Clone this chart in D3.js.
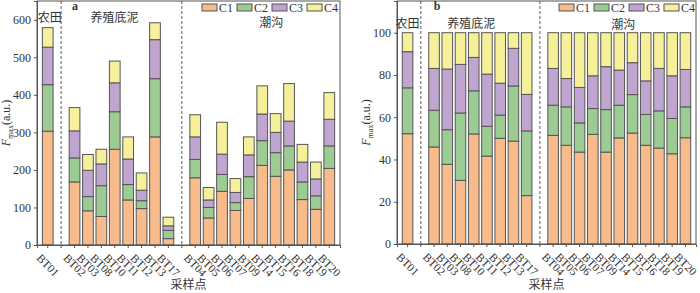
<!DOCTYPE html>
<html>
<head>
<meta charset="utf-8">
<script src="https://cdn.jsdelivr.net/npm/d3@7"></script>
<style>
  body { margin: 0; background: #fff; }
  svg text { font-family: "Liberation Serif", "Times New Roman", serif; fill: #333; }
  .cjk { font-family: "Noto Sans CJK SC", sans-serif; }
</style>
</head>
<body>
<svg id="chart" width="700" height="293"></svg>
<script>
// sampling sites, in plotting order; "|" slots hold the dashed dividers
var slots = ["BT01", "|1", "BT02", "BT03", "BT08", "BT10", "BT11", "BT12", "BT13", "BT17",
             "|2", "BT04", "BT05", "BT06", "BT07", "BT09", "BT14", "BT15", "BT16", "BT18", "BT19", "BT20"];
var sites = slots.filter(function(s) { return s[0] != "|"; });
var keys = ["C1", "C2", "C3", "C4"];

// Fmax (a.u.) per component, panel a
var fmaxC1 = [303, 168, 91, 76, 255, 120, 97, 288, 17, 179, 72, 143, 92, 124, 212, 183, 200, 121, 95, 204];
var fmaxC2 = [124, 64, 38, 82, 100, 41, 21, 155, 22, 49, 28, 45, 21, 58, 66, 63, 64, 47, 36, 60];
var fmaxC3 = [100, 72, 70, 58, 77, 68, 28, 104, 12, 60, 20, 54, 27, 58, 71, 54, 66, 53, 45, 71];
var fmaxC4 = [52, 62, 42, 39, 58, 59, 46, 45, 23, 59, 33, 85, 37, 48, 75, 50, 100, 47, 45, 71];

// relative share (%) per component, panel b
var pctC1 = [52.2, 45.9, 37.7, 30.1, 52.1, 41.6, 50.0, 48.7, 22.9, 51.4, 46.7, 43.5, 51.9, 43.5, 50.2, 52.5, 46.7, 45.4, 42.7, 50.3];
var pctC2 = [21.7, 17.4, 16.4, 31.9, 20.4, 14.1, 11.0, 26.1, 30.6, 14.3, 18.2, 13.8, 12.2, 20.1, 15.5, 18.2, 14.6, 17.6, 16.7, 14.6];
var pctC3 = [17.1, 19.8, 28.7, 23.0, 15.8, 24.7, 15.1, 17.8, 17.3, 17.4, 13.4, 16.8, 15.5, 20.3, 16.6, 15.1, 15.9, 20.1, 20.2, 17.7];
var pctC4 = [9.0, 16.9, 17.2, 15.0, 11.7, 19.6, 23.9, 7.4, 29.2, 16.9, 21.7, 25.9, 20.4, 16.1, 17.7, 14.2, 22.8, 16.9, 20.4, 17.4];

var groupNames = ["农田", "养殖底泥", "潮沟"];
var groupMembers = [["BT01"], ["BT02", "BT17"], ["BT04", "BT20"]];

var color = d3.scaleOrdinal().domain(keys).range(["#F8BC8C", "#9DCB94", "#BFA5CF", "#F7F09A"]);

function rows(c1, c2, c3, c4) {
  return sites.map(function(s, i) { return { site: s, C1: c1[i], C2: c2[i], C3: c3[i], C4: c4[i] }; });
}

var svg = d3.select("#chart");

drawPanel({
  data: rows(fmaxC1, fmaxC2, fmaxC3, fmaxC4),
  x0: 37, x1: 340, y0: 245, y1: 1,
  ymax: 650, ticks: d3.range(0, 601, 100),
  letter: "a", letterX: 75,
  groupDx: [2, -7, 9], groupY: [22, 22, 27],
  legendX: 202
});

drawPanel({
  data: rows(pctC1, pctC2, pctC3, pctC4),
  x0: 397, x1: 696, y0: 244, y1: 1,
  ymax: 115, ticks: d3.range(0, 101, 20),
  letter: "b", letterX: 437,
  groupDx: [0, -9, 4], groupY: [28, 28, 29],
  legendX: 559
});

function drawPanel(o) {
  var x = d3.scaleBand().domain(slots).range([o.x0, o.x1]).paddingInner(0.2).paddingOuter(0.4);
  var y = d3.scaleLinear().domain([0, o.ymax]).range([o.y0, o.y1]);
  var g = svg.append("g");

  // dashed dividers
  g.selectAll(".div")
    .data(slots.filter(function(s) { return s[0] == "|"; }))
    .enter().append("line")
      .attr("x1", function(d) { return x(d) + x.bandwidth() / 2; })
      .attr("x2", function(d) { return x(d) + x.bandwidth() / 2; })
      .attr("y1", o.y1).attr("y2", o.y0)
      .attr("stroke", "#777").attr("stroke-width", 1.2)
      .attr("stroke-dasharray", "3,2");

  var series = d3.stack().keys(keys)(o.data);
  g.selectAll(".layer")
    .data(series)
    .enter().append("g")
      .attr("fill", function(d) { return color(d.key); })
    .selectAll("rect")
    .data(function(d) { return d; })
    .enter().append("rect")
      .attr("x", function(d) { return x(d.data.site); })
      .attr("width", x.bandwidth())
      .attr("y", function(d) { return y(d[1]); })
      .attr("height", function(d) { return y(d[0]) - y(d[1]); })
      .attr("stroke", "#555").attr("stroke-width", 1);

  // frame
  g.append("rect")
    .attr("x", o.x0).attr("y", o.y1)
    .attr("width", o.x1 - o.x0).attr("height", o.y0 - o.y1)
    .attr("fill", "none").attr("stroke", "#555").attr("stroke-width", 1);

  // y axis
  var ya = g.append("g")
    .attr("transform", "translate(" + o.x0 + ",0)")
    .call(d3.axisLeft(y).tickValues(o.ticks).tickSize(3).tickPadding(3));
  ya.select(".domain").attr("stroke", "#555");
  ya.selectAll(".tick line").attr("stroke", "#555");
  ya.selectAll("text").style("font-size", "12px").attr("fill", "#333");

  // x axis
  var xa = g.append("g")
    .attr("transform", "translate(0," + o.y0 + ")")
    .call(d3.axisBottom(x).tickSize(3).tickFormat(function(d) { return d[0] == "|" ? "" : d; }));
  xa.select(".domain").attr("stroke", "#555");
  xa.selectAll(".tick line").attr("stroke", "#555");
  xa.selectAll("text")
    .style("font-size", "11.5px").attr("fill", "#333")
    .attr("text-anchor", "start")
    .attr("transform", "translate(-9,11) rotate(45)")
    .attr("y", 0).attr("dy", "0.35em");

  // group labels
  groupNames.forEach(function(name, i) {
    var m = groupMembers[i];
    var cx = (x(m[0]) + x(m[m.length - 1]) + x.bandwidth()) / 2 + o.groupDx[i];
    g.append("text").attr("class", "cjk")
      .attr("x", cx).attr("y", o.groupY[i])
      .attr("text-anchor", "middle")
      .style("font-size", "12px")
      .text(name);
  });

  // panel letter
  g.append("text")
    .attr("x", o.letterX).attr("y", 10)
    .attr("text-anchor", "middle")
    .style("font-size", "12px").style("font-weight", "bold")
    .text(o.letter);

  // legend
  var lg = g.selectAll(".lg")
    .data(keys)
    .enter().append("g")
      .attr("transform", function(d, i) { return "translate(" + (o.legendX + i * 35) + ",4)"; });
  lg.append("rect")
    .attr("width", 15).attr("height", 7)
    .attr("fill", function(d) { return color(d); })
    .attr("stroke", "#555").attr("stroke-width", 1);
  lg.append("text")
    .attr("x", 17).attr("y", 7.5)
    .style("font-size", "12px")
    .text(function(d) { return d; });

  // y title
  var yt = g.append("text")
    .attr("transform", "translate(" + (o.x0 - 27) + "," + ((o.y0 + o.y1) / 2) + ") rotate(-90)")
    .attr("text-anchor", "middle")
    .style("font-size", "12px");
  yt.append("tspan").style("font-style", "italic").text("F");
  yt.append("tspan").attr("dy", 3).style("font-size", "8px").text("max");
  yt.append("tspan").attr("dy", -3).text("(a.u.)");

  // x title
  g.append("text").attr("class", "cjk")
    .attr("x", (o.x0 + o.x1) / 2).attr("y", 289)
    .attr("text-anchor", "middle")
    .style("font-size", "12px")
    .text("采样点");
}
</script>
</body>
</html>
